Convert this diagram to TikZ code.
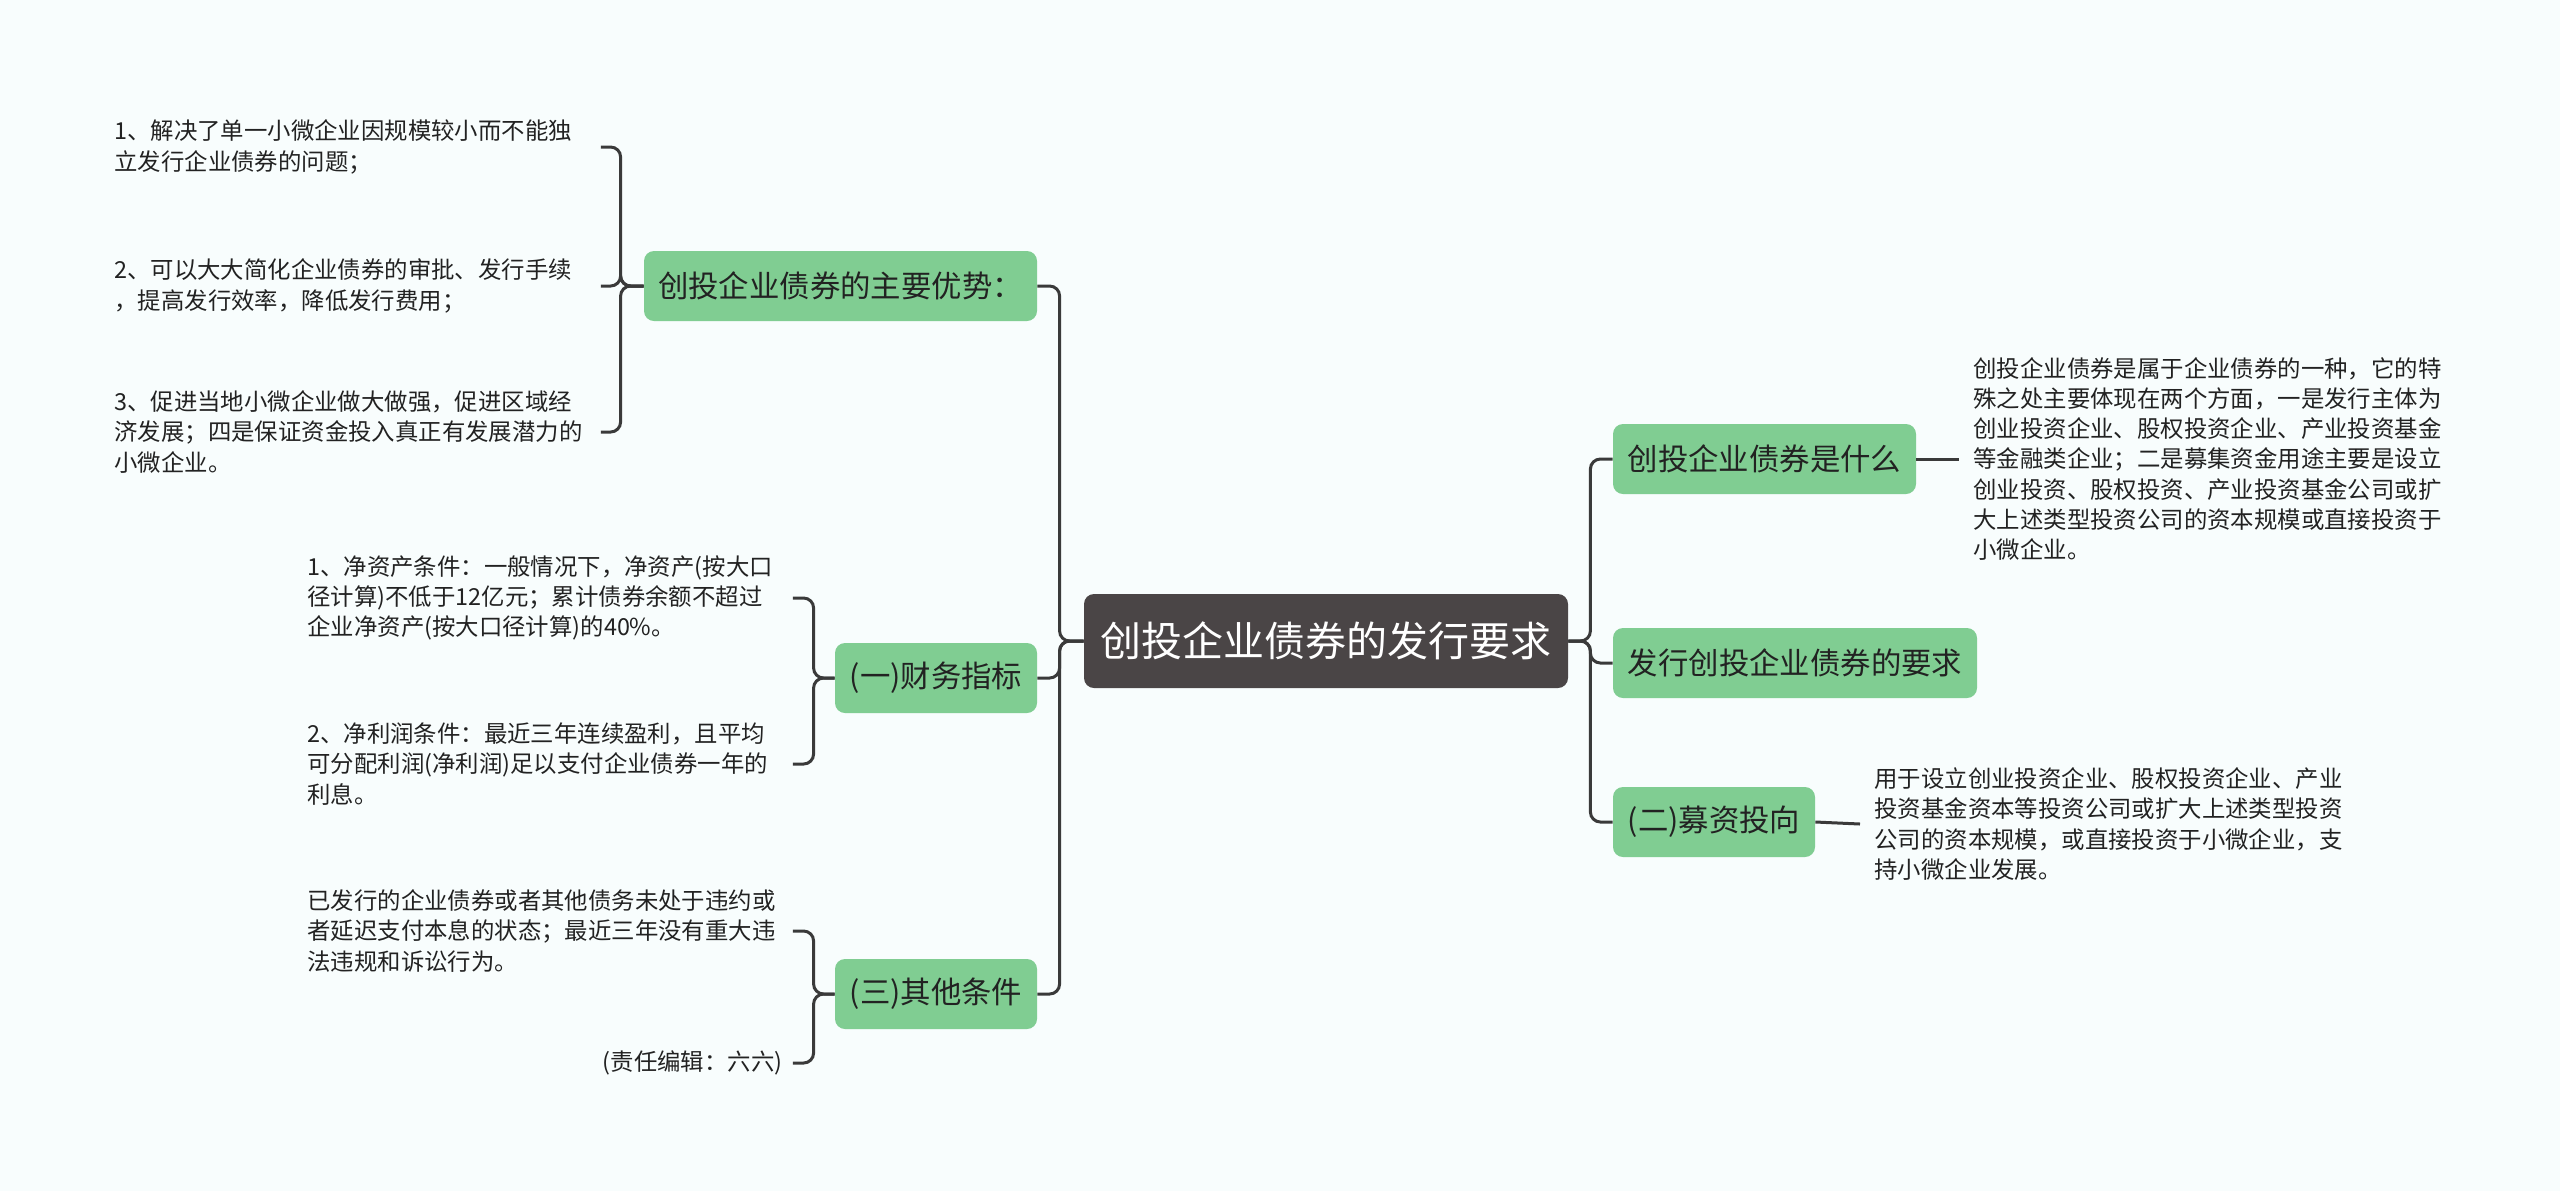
\documentclass[tikz,border=0pt]{standalone}
\usepackage{fontspec}
\setmainfont{Noto Sans CJK SC}
\definecolor{bg}{HTML}{F8FDFD}
\definecolor{gr}{HTML}{80CD92}
\definecolor{dk}{HTML}{4A4546}
\definecolor{ln}{HTML}{3A3A3A}
\definecolor{tx}{HTML}{222222}
\begin{document}
\begin{tikzpicture}[x=0.5pt,y=-0.5pt,
 conn/.style={draw=ln,line width=1.5pt,rounded corners=5pt},
 root/.style={fill=dk,rounded corners=5pt,text=white,font=\fontsize{20.5pt}{24pt}\selectfont,minimum width=242pt,minimum height=47pt,inner sep=0pt},
 topic/.style={fill=gr,rounded corners=5pt,text=tx,font=\fontsize{15.2pt}{18pt}\selectfont,minimum height=35pt,inner sep=0pt},
 leaf/.style={inner sep=0pt,align=left,text=tx,font=\fontsize{11.7pt}{15.15pt}\selectfont}]
\fill[bg] (0,0) rectangle (2560,1191);
\useasboundingbox (0,0) rectangle (2560,1191);

\node[root] (c) at (1326,641) {创投企业债券的发行要求};
\node[topic,minimum width=196.5pt] (adv) at (840.5,286) {创投企业债券的主要优势：};
\node[topic,minimum width=101pt] (fin) at (936,678) {(一)财务指标};
\node[topic,minimum width=101pt] (oth) at (936,994) {(三)其他条件};
\node[topic,minimum width=151.5pt] (what) at (1764.5,459) {创投企业债券是什么};
\node[topic,minimum width=182pt] (req) at (1795,663) {发行创投企业债券的要求};
\node[topic,minimum width=101pt] (inv) at (1714,822) {(二)募资投向};

\node[leaf,anchor=west,text width=238pt] (a1) at (114,147) {1、解决了单一小微企业因规模较小而不能独\\立发行企业债券的问题；};
\node[leaf,anchor=west,text width=238pt] (a2) at (114,286) {2、可以大大简化企业债券的审批、发行手续\\，提高发行效率，降低发行费用；};
\node[leaf,anchor=west,text width=238pt] (a3) at (114,432) {3、促进当地小微企业做大做强，促进区域经\\济发展；四是保证资金投入真正有发展潜力的\\小微企业。};

\node[leaf,anchor=west,text width=237.5pt] (f1) at (307,598) {1、净资产条件：一般情况下，净资产(按大口\\径计算)不低于12亿元；累计债券余额不超过\\企业净资产(按大口径计算)的40\%。};
\node[leaf,anchor=west,text width=237.5pt] (f2) at (307,764) {2、净利润条件：最近三年连续盈利，且平均\\可分配利润(净利润)足以支付企业债券一年的\\利息。};

\node[leaf,anchor=west,text width=237.5pt] (o1) at (307,931) {已发行的企业债券或者其他债务未处于违约或\\者延迟支付本息的状态；最近三年没有重大违\\法违规和诉讼行为。};
\node[leaf,anchor=west,text width=237.5pt,align=right] (o2) at (307,1063) {(责任编辑：六六)};

\node[leaf,anchor=west] (w1) at (1973,459) {创投企业债券是属于企业债券的一种，它的特\\殊之处主要体现在两个方面，一是发行主体为\\创业投资企业、股权投资企业、产业投资基金\\等金融类企业；二是募集资金用途主要是设立\\创业投资、股权投资、产业投资基金公司或扩\\大上述类型投资公司的资本规模或直接投资于\\小微企业。};
\node[leaf,anchor=west] (i1) at (1874,824) {用于设立创业投资企业、股权投资企业、产业\\投资基金资本等投资公司或扩大上述类型投资\\公司的资本规模，或直接投资于小微企业，支\\持小微企业发展。};

\foreach \t in {adv,fin,oth} \draw[conn] (c.west) -- ++(-12pt,0) |- (\t.east);
\foreach \t in {what,req,inv} \draw[conn] (c.east) -- ++(11pt,0) |- (\t.west);
\foreach \t in {a1,a2,a3} \draw[conn] (adv.west) -- ++(-11.5pt,0) |- ([xshift=5pt]\t.east);
\foreach \t in {f1,f2} \draw[conn] (fin.west) -- ++(-10.5pt,0) |- ([xshift=5pt]\t.east);
\foreach \t in {o1,o2} \draw[conn] (oth.west) -- ++(-10.5pt,0) |- ([xshift=5pt]\t.east);
\draw[conn] (what.east) -- ([xshift=-7pt]w1.west);
\draw[conn] (inv.east) -- ([xshift=-7pt]i1.west);
\end{tikzpicture}
\end{document}
